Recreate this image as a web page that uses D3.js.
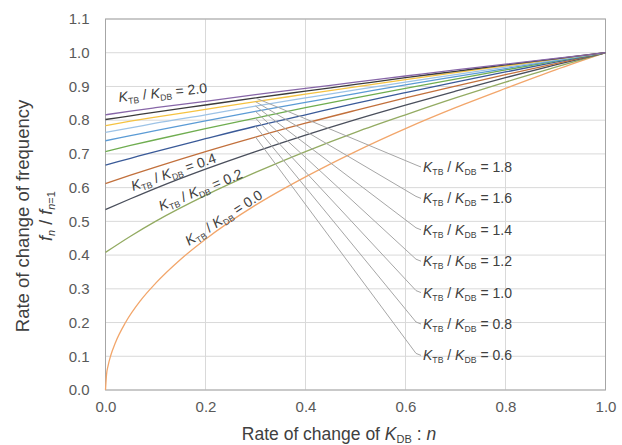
<!DOCTYPE html>
<html>
<head>
<meta charset="utf-8">
<script src="https://cdn.jsdelivr.net/npm/d3@7"></script>
<style>
  body { margin: 0; background: #fff; }
  svg { font-family: "Liberation Sans", Arial, sans-serif; }
</style>
</head>
<body>
<svg id="chart" width="622" height="445"></svg>
<script>
// K_TB / K_DB ratio of each curve
const ratios = ["0.0", "0.2", "0.4", "0.6", "0.8", "1.0", "1.2", "1.4", "1.6", "1.8", "2.0"];

// n values (rate of change of K_DB)
const nSteep = [0, 0.002, 0.005, 0.01, 0.02, 0.04, 0.07, 0.1, 0.15, 0.2, 0.3, 0.4, 0.5, 0.6, 0.7, 0.8, 0.9, 1.0];
const nBase = [0, 0.05, 0.1, 0.2, 0.3, 0.4, 0.5, 0.6, 0.7, 0.8, 0.9, 1.0];

// f_n / f_n=1
const r00 = [0, 0.045, 0.071, 0.1, 0.141, 0.2, 0.265, 0.316, 0.387, 0.447, 0.548, 0.632, 0.707, 0.775, 0.837, 0.894, 0.949, 1.0];
const r02 = [0.408, 0.456, 0.5, 0.577, 0.645, 0.707, 0.764, 0.816, 0.866, 0.913, 0.957, 1.0];
const r04 = [0.535, 0.567, 0.598, 0.655, 0.707, 0.756, 0.802, 0.845, 0.886, 0.926, 0.964, 1.0];
const r06 = [0.612, 0.637, 0.661, 0.707, 0.750, 0.791, 0.829, 0.866, 0.901, 0.935, 0.968, 1.0];
const r08 = [0.667, 0.687, 0.707, 0.745, 0.782, 0.816, 0.850, 0.882, 0.913, 0.943, 0.972, 1.0];
const r10 = [0.707, 0.725, 0.742, 0.775, 0.806, 0.837, 0.866, 0.894, 0.922, 0.949, 0.975, 1.0];
const r12 = [0.739, 0.754, 0.769, 0.798, 0.826, 0.853, 0.879, 0.905, 0.929, 0.953, 0.977, 1.0];
const r14 = [0.764, 0.777, 0.791, 0.816, 0.842, 0.866, 0.890, 0.913, 0.935, 0.957, 0.979, 1.0];
const r16 = [0.784, 0.797, 0.809, 0.832, 0.855, 0.877, 0.899, 0.920, 0.941, 0.961, 0.981, 1.0];
const r18 = [0.802, 0.813, 0.824, 0.845, 0.866, 0.886, 0.906, 0.926, 0.945, 0.964, 0.982, 1.0];
const r20 = [0.816, 0.827, 0.837, 0.856, 0.876, 0.894, 0.913, 0.931, 0.949, 0.966, 0.983, 1.0];

const xTicks = [0, 0.2, 0.4, 0.6, 0.8, 1.0];
const yTicks = [0, 0.1, 0.2, 0.3, 0.4, 0.5, 0.6, 0.7, 0.8, 0.9, 1.0, 1.1];

const colors = ["#f2a66b", "#93ab62", "#4a4f5c", "#c2703c", "#3a5a98", "#6fad50",
                "#5b9bd5", "#9dc3e6", "#f5c342", "#3b3b3b", "#8766a8"];

const series = ratios.map((r, i) => {
  const ys = [r00, r02, r04, r06, r08, r10, r12, r14, r16, r18, r20][i];
  const xs = i === 0 ? nSteep : nBase;
  return { ratio: r, color: colors[i], points: xs.map((x, j) => [x, ys[j]]) };
});

const svg = d3.select("#chart");
const x = d3.scaleLinear().domain([0, 1]).range([105.5, 605.5]);
const y = d3.scaleLinear().domain([0, 1.1]).range([390, 19]);

// grid
svg.append("g")
  .selectAll("line.v")
  .data(xTicks)
  .join("line")
  .attr("x1", d => x(d)).attr("x2", d => x(d))
  .attr("y1", y(0)).attr("y2", y(1.1))
  .attr("stroke", "#d9d9d9");
svg.append("g")
  .selectAll("line.h")
  .data(yTicks)
  .join("line")
  .attr("x1", x(0)).attr("x2", x(1))
  .attr("y1", d => y(d)).attr("y2", d => y(d))
  .attr("stroke", "#d9d9d9");

// frame
svg.append("rect")
  .attr("x", x(0)).attr("y", y(1.1))
  .attr("width", x(1) - x(0)).attr("height", y(0) - y(1.1))
  .attr("fill", "none").attr("stroke", "#a6a6a6");

// axes
const xAxis = svg.append("g")
  .attr("transform", `translate(0,${y(0)})`)
  .call(d3.axisBottom(x).tickValues(xTicks).tickFormat(d3.format(".1f")).tickSize(0).tickPadding(11));
const yAxis = svg.append("g")
  .attr("transform", `translate(${x(0)},0)`)
  .call(d3.axisLeft(y).tickValues(yTicks).tickFormat(d3.format(".1f")).tickSize(0).tickPadding(16));
[xAxis, yAxis].forEach(a => {
  a.select(".domain").remove();
  a.selectAll("text")
    .attr("font-family", "'Liberation Sans', Arial, sans-serif")
    .attr("font-size", 15)
    .attr("fill", "#595959");
});

// curves
const line = d3.line()
  .x(d => x(d[0]))
  .y(d => y(d[1]))
  .curve(d3.curveMonotoneX);

svg.append("g")
  .selectAll("path")
  .data(series)
  .join("path")
  .attr("d", d => line(d.points))
  .attr("fill", "none")
  .attr("stroke", d => d.color)
  .attr("stroke-width", 1.3);

// helper for "K_TB / K_DB = v"
function ratioText(g, value, size) {
  const t = g.append("text")
    .attr("font-size", size)
    .attr("fill", "#404040");
  t.append("tspan").attr("font-style", "italic").text("K");
  t.append("tspan").attr("font-size", size * 0.62).attr("dy", 3).text("TB");
  t.append("tspan").attr("dy", -3).text(" / ");
  t.append("tspan").attr("font-style", "italic").text("K");
  t.append("tspan").attr("font-size", size * 0.62).attr("dy", 3).text("DB");
  t.append("tspan").attr("dy", -3).text(" = " + value);
  return t;
}

// labels placed along the curves
const inline = [
  { ratio: "2.0", px: 119, py: 102, angle: -6 },
  { ratio: "0.4", px: 133, py: 191, angle: -19 },
  { ratio: "0.2", px: 161, py: 211, angle: -22 },
  { ratio: "0.0", px: 189, py: 246, angle: -33 }
];
inline.forEach(d => {
  const g = svg.append("g").attr("transform", `translate(${d.px},${d.py}) rotate(${d.angle})`);
  ratioText(g, d.ratio, 14);
});

// callout labels with leader lines
const callouts = ["1.8", "1.6", "1.4", "1.2", "1.0", "0.8", "0.6"];
callouts.forEach((r, i) => {
  const s = series.find(d => d.ratio === r);
  const start = s.points.find(p => p[0] === 0.3);
  const ly = 167 + i * 31.4;
  svg.append("path")
    .attr("d", `M${x(start[0])},${y(start[1])} L${416},${ly - 2} L${421},${ly}`)
    .attr("fill", "none")
    .attr("stroke", "#a6a6a6")
    .attr("stroke-width", 1);
  const g = svg.append("g").attr("transform", `translate(423,${ly + 5})`);
  ratioText(g, r, 14);
});

// axis titles
const xt = svg.append("text")
  .attr("x", 339).attr("y", 440)
  .attr("text-anchor", "middle")
  .attr("font-size", 17.5)
  .attr("fill", "#404040");
xt.append("tspan").text("Rate of change of ");
xt.append("tspan").attr("font-style", "italic").text("K");
xt.append("tspan").attr("font-size", 11).attr("dy", 3).text("DB");
xt.append("tspan").attr("dy", -3).text(" : ");
xt.append("tspan").attr("font-style", "italic").text("n");

svg.append("text")
  .attr("transform", "translate(29,216) rotate(-90)")
  .attr("text-anchor", "middle")
  .attr("font-size", 18.5)
  .attr("fill", "#404040")
  .text("Rate of change of frequency");

const yt = svg.append("text")
  .attr("transform", "translate(52,216) rotate(-90)")
  .attr("text-anchor", "middle")
  .attr("font-size", 18)
  .attr("fill", "#404040");
yt.append("tspan").attr("font-style", "italic").text("f");
yt.append("tspan").attr("font-size", 11).attr("font-style", "italic").attr("dy", 3).text("n");
yt.append("tspan").attr("dy", -3).text(" / ");
yt.append("tspan").attr("font-style", "italic").text("f");
yt.append("tspan").attr("font-size", 11).attr("font-style", "italic").attr("dy", 3).text("n");
yt.append("tspan").attr("font-size", 11).attr("dy", 0).text("=1");
</script>
</body>
</html>
